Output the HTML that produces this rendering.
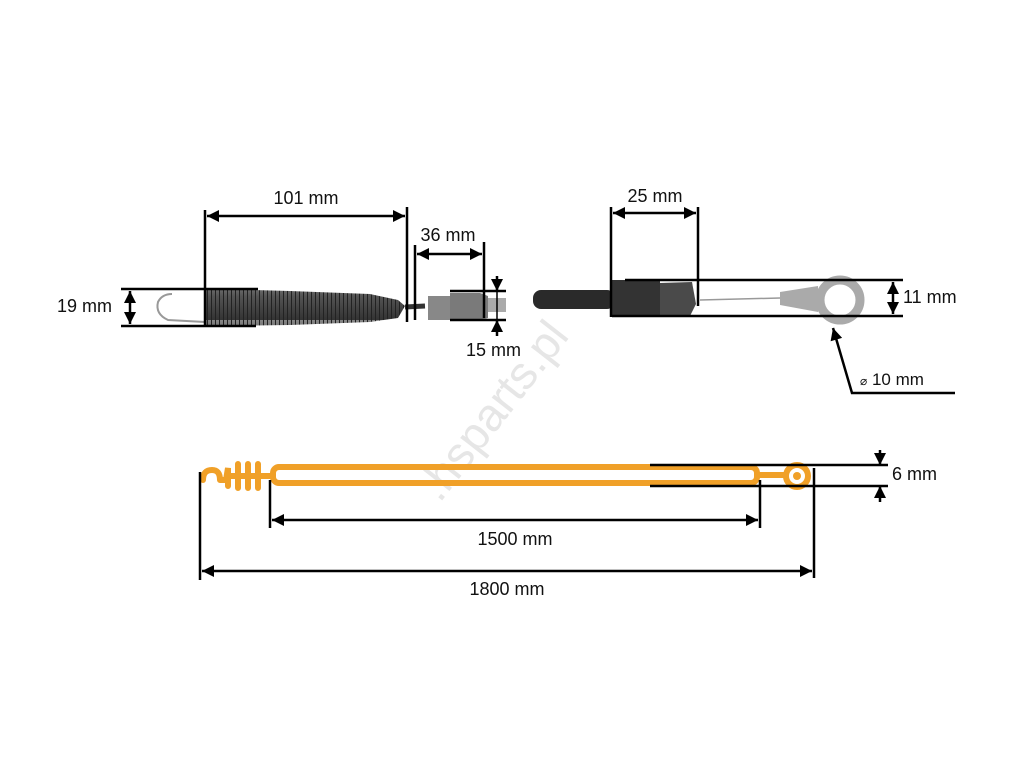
<!DOCTYPE html>
<html><head><style>html,body{margin:0;padding:0;background:#fff}svg{display:block}text{font-family:"Liberation Sans",sans-serif;font-size:18px;fill:#111}</style></head>
<body>
<svg width="1024" height="768" viewBox="0 0 1024 768" xmlns="http://www.w3.org/2000/svg">
<defs>
<marker id="a" viewBox="0 0 10 10" refX="10" refY="5" markerWidth="14" markerHeight="12" markerUnits="userSpaceOnUse" orient="auto-start-reverse"><path d="M0,0L10,5L0,10z" fill="#000"/></marker>
<linearGradient id="sp" x1="0" y1="0" x2="0" y2="1"><stop offset="0" stop-color="#888"/><stop offset=".4" stop-color="#555"/><stop offset="1" stop-color="#333"/></linearGradient>
<pattern id="coil" width="4" height="40" patternUnits="userSpaceOnUse"><rect width="4" height="40" fill="url(#sp)"/><line x1="3.5" y1="0" x2="3.5" y2="40" stroke="#222" stroke-width="1"/></pattern>
</defs>
<text x="505" y="420" transform="rotate(-52 505 420)" text-anchor="middle" style="font-size:46px;fill:#e6e6e6">.hsparts.pl</text>

<path d="M205,289 L220,289 L290,291 L370,294 L398,300 L405,306 L398,318 L370,322 L290,325 L220,326 L205,326 Z" fill="url(#coil)"/>
<path d="M205,322 L168,320 Q155,314 158,302 Q162,294 172,294" fill="none" stroke="#999" stroke-width="2"/>
<path d="M405,307 L425,306" stroke="#333" stroke-width="5"/>
<rect x="428" y="296" width="22" height="24" fill="#888"/>
<path d="M450,293 L480,293 L488,296 L488,318 L480,320 L450,320 Z" fill="#7a7a7a"/>
<rect x="488" y="298" width="18" height="14" fill="#aaa"/>
<rect x="533" y="290" width="82" height="19" rx="8" fill="#2a2a2a"/>
<rect x="612" y="280" width="48" height="37" fill="#333"/>
<path d="M660,283 L692,282 L696,304 L690,316 L660,315 Z" fill="#4a4a4a"/>
<line x1="700" y1="300" x2="780" y2="298" stroke="#999" stroke-width="1.5"/>
<path d="M780,292 L818,286 L818,312 L780,305 Z" fill="#aaa"/>
<circle cx="840" cy="300" r="20" fill="none" stroke="#aaa" stroke-width="9"/>

<g stroke="#000" stroke-width="2.5" fill="none">
<line x1="121" y1="289" x2="258" y2="289"/><line x1="121" y1="326" x2="256" y2="326"/>
<line x1="130" y1="291" x2="130" y2="324" marker-start="url(#a)" marker-end="url(#a)"/>
<line x1="205" y1="210" x2="205" y2="326"/><line x1="407" y1="207" x2="407" y2="322"/>
<line x1="207" y1="216" x2="405" y2="216" marker-start="url(#a)" marker-end="url(#a)"/>
<line x1="415" y1="245" x2="415" y2="320"/><line x1="484" y1="242" x2="484" y2="318"/>
<line x1="417" y1="254" x2="482" y2="254" marker-start="url(#a)" marker-end="url(#a)"/>
<line x1="450" y1="291" x2="506" y2="291"/><line x1="450" y1="320" x2="506" y2="320"/>
<line x1="497" y1="276" x2="497" y2="291" marker-end="url(#a)"/><line x1="497" y1="336" x2="497" y2="320" marker-end="url(#a)"/>
<line x1="497" y1="291" x2="497" y2="320" stroke-width="1.5"/>
<line x1="611" y1="207" x2="611" y2="317"/><line x1="698" y1="207" x2="698" y2="306"/>
<line x1="613" y1="213" x2="696" y2="213" marker-start="url(#a)" marker-end="url(#a)"/>
<line x1="625" y1="280" x2="903" y2="280"/><line x1="612" y1="316" x2="903" y2="316"/>
<line x1="893" y1="282" x2="893" y2="314" marker-start="url(#a)" marker-end="url(#a)"/>
<polyline points="955,393 852,393 833,328" marker-end="url(#a)"/>
</g>
<text x="306" y="204" text-anchor="middle">101 mm</text>
<text x="448" y="241" text-anchor="middle">36 mm</text>
<text x="57" y="312">19 mm</text>
<text x="466" y="356">15 mm</text>
<text x="655" y="202" text-anchor="middle">25 mm</text>
<text x="903" y="303">11 mm</text>
<text x="860" y="385" style="font-size:17px"><tspan style="font-size:12px">⌀</tspan> 10 mm</text>

<g stroke="#f0a028" stroke-width="6" fill="none" stroke-linecap="round">
<rect x="273" y="467" width="484" height="16" rx="6"/>
<path d="M757,475 L784,475"/>
<circle cx="797" cy="476" r="11"/>
<path d="M203,480 Q203,470 212,470 Q220,470 220,480 M220,480 L226,480 L228,468 L228,486 M238,464 L238,488 M248,464 L248,488 M258,464 L258,488 M230,476 L270,476"/>
</g>
<circle cx="797" cy="476" r="4" fill="#f0a028"/>
<g stroke="#000" stroke-width="2.5" fill="none">
<line x1="650" y1="465" x2="888" y2="465"/><line x1="650" y1="486" x2="888" y2="486"/>
<line x1="880" y1="450" x2="880" y2="465" marker-end="url(#a)"/><line x1="880" y1="502" x2="880" y2="486" marker-end="url(#a)"/>
<line x1="270" y1="480" x2="270" y2="528"/><line x1="760" y1="480" x2="760" y2="528"/>
<line x1="272" y1="520" x2="758" y2="520" marker-start="url(#a)" marker-end="url(#a)"/>
<line x1="200" y1="472" x2="200" y2="580"/><line x1="814" y1="468" x2="814" y2="578"/>
<line x1="202" y1="571" x2="812" y2="571" marker-start="url(#a)" marker-end="url(#a)"/>
</g>
<text x="892" y="480">6 mm</text>
<text x="515" y="545" text-anchor="middle">1500 mm</text>
<text x="507" y="595" text-anchor="middle">1800 mm</text>
</svg>
</body></html>
